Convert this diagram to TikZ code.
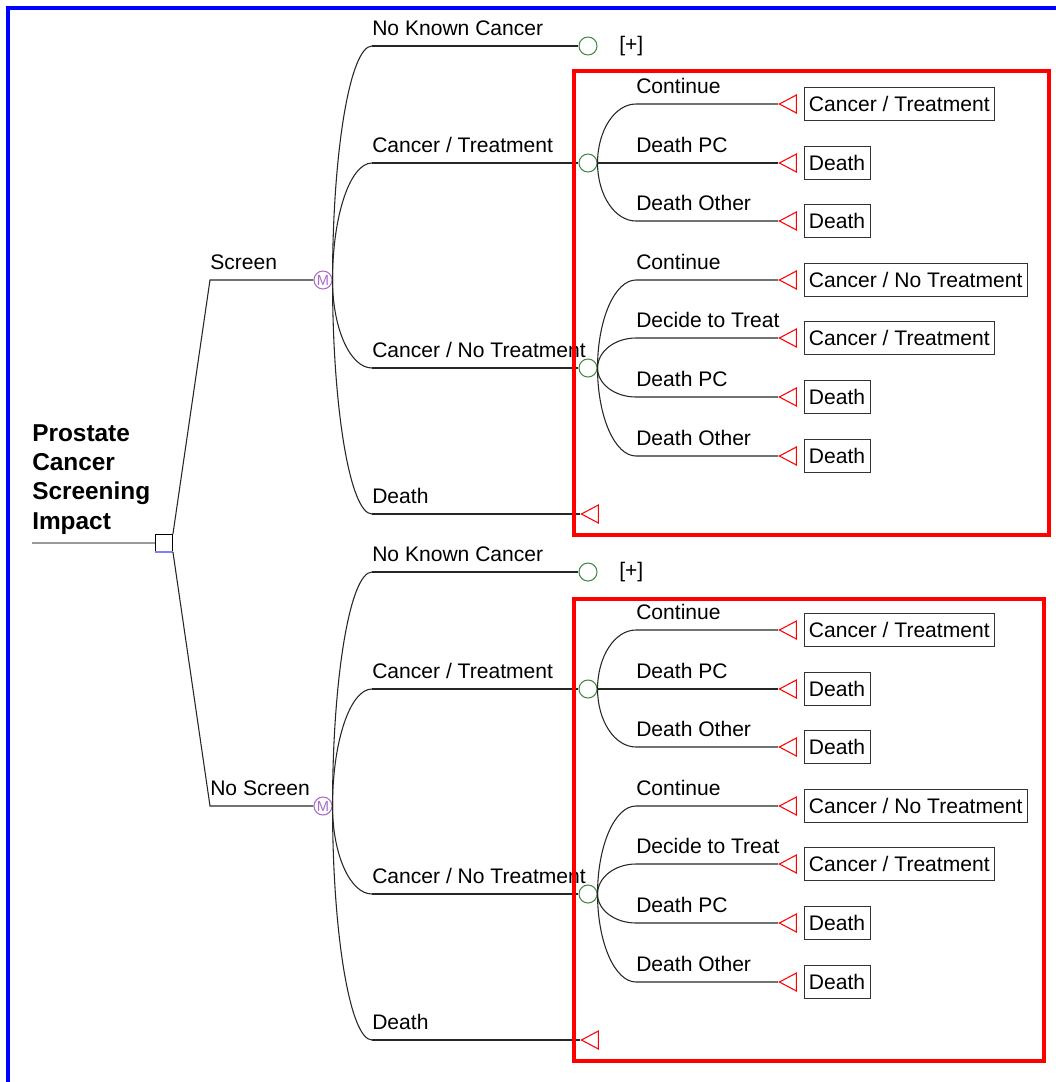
\documentclass[tikz,border=0pt]{standalone}
\usepackage{fontspec}
\setmainfont{Liberation Sans}
\usetikzlibrary{shapes.geometric, calc}

\definecolor{chancegreen}{RGB}{70,140,70}
\definecolor{markovpurple}{RGB}{170,110,200}

\begin{document}
\begin{tikzpicture}[x=0.75pt, y=-0.75pt,
    lbl/.style={anchor=base west, inner sep=0pt, font=\fontsize{15.8}{18}\selectfont},
    branch/.style={black!85, line width=0.8pt},
    decision/.style={rectangle, draw=black, fill=white, minimum size=13pt, inner sep=0pt},
    chance/.style={circle, draw=chancegreen, line width=0.8pt, fill=white, minimum size=13.5pt, inner sep=0pt},
    markov/.style={circle, draw=markovpurple, line width=0.8pt, fill=white, minimum size=13.5pt, inner sep=0pt,
        text=markovpurple, font=\fontsize{11}{11}\selectfont},
    term/.style={isosceles triangle, isosceles triangle stretches, shape border rotate=180,
        draw=red, line width=0.8pt, fill=white, minimum width=13.5pt, minimum height=12.75pt, inner sep=0pt, anchor=apex},
    outcome/.style={draw=black!80, anchor=west, minimum height=24.75pt, inner xsep=3.5pt,
        inner ysep=0pt, font=\fontsize{15.8}{18}\selectfont}]
    \useasboundingbox (0,0) rectangle (1056,1082);
    \draw[blue, line width=2.5pt] (8,1082) -- (8,8) -- (1056,8);

    % root and decision
    \node[anchor=north west, align=left, inner sep=0pt, font=\fontsize{18.3}{22}\selectfont\bfseries] (title) at (32,424) {Prostate\\Cancer\\Screening\\Impact};
    \coordinate (root) at (32,543);
    \node[decision] (dec) at (164,543) {};
    \draw[black!40, line width=1.5pt] (root) -- (dec);
    \draw[blue!50, line width=0.9pt] (dec.south west) -- (dec.south east);

    \foreach \p/\dy/\arm/\corner in {s/0/Screen/north east, n/526/No Screen/south east} {
        \coordinate (arm\p) at (210,{280+\dy});
        \node[markov] (mk\p) at (323,{280+\dy}) {M};
        \draw[branch] (dec.\corner) -- (arm\p) -- (mk\p);
        \node[lbl] (armlbl\p) at (210,{269+\dy}) {\arm};
        % out of the Markov node
        \foreach \q/\y/\txt in {nk/46/No Known Cancer, ct/163/{Cancer / Treatment}, cn/368/{Cancer / No Treatment}, dt/514/Death} {
            \coordinate (h\p\q) at (372,{\y+\dy});
            \node[lbl] (lbl\p\q) at (372,{\y+\dy-11}) {\txt};
            \draw[branch] (mk\p.east) .. controls ($(mk\p.east)!0.552!(mk\p.east |- h\p\q)$)
                and ($(h\p\q)!0.552!(mk\p.east |- h\p\q)$) .. (h\p\q);
        }
        \node[chance] (nk\p) at (588,{46+\dy}) {};
        \node[lbl, anchor=west] (plus\p) at (619,{46+\dy}) {[+]};
        \node[chance] (ct\p) at (588,{163+\dy}) {};
        \node[chance] (cn\p) at (588,{368+\dy}) {};
        \node[term] (dt\p) at (580,{514+\dy}) {};
        \draw[branch] (h\p nk) -- (nk\p);
        \draw[branch] (h\p ct) -- (ct\p);
        \draw[branch] (h\p cn) -- (cn\p);
        \draw[branch] (h\p dt) -- (dt\p);
        % Cancer / Treatment
        \foreach \q/\y/\txt/\out in {co/104/Continue/{Cancer / Treatment}, dp/163/Death PC/Death, do/221/Death Other/Death} {
            \coordinate (g\p ct\q) at (636,{\y+\dy});
            \node[lbl] (lbl\p ct\q) at (636,{\y+\dy-11}) {\txt};
            \node[term] (t\p ct\q) at (778,{\y+\dy}) {};
            \node[outcome] (o\p ct\q) at (804,{\y+\dy}) {\out};
            \draw[branch] (ct\p.east) .. controls ($(ct\p.east)!0.552!(ct\p.east |- g\p ct\q)$)
                and ($(g\p ct\q)!0.552!(ct\p.east |- g\p ct\q)$) .. (g\p ct\q) -- (t\p ct\q);
        }
        % Cancer / No Treatment
        \foreach \q/\y/\txt/\out in {co/280/Continue/{Cancer / No Treatment}, tr/338/Decide to Treat/{Cancer / Treatment}, dp/397/Death PC/Death, do/456/Death Other/Death} {
            \coordinate (g\p cn\q) at (636,{\y+\dy});
            \node[lbl] (lbl\p cn\q) at (636,{\y+\dy-11}) {\txt};
            \node[term] (t\p cn\q) at (778,{\y+\dy}) {};
            \node[outcome] (o\p cn\q) at (804,{\y+\dy}) {\out};
            \draw[branch] (cn\p.east) .. controls ($(cn\p.east)!0.552!(cn\p.east |- g\p cn\q)$)
                and ($(g\p cn\q)!0.552!(cn\p.east |- g\p cn\q)$) .. (g\p cn\q) -- (t\p cn\q);
        }
    }

    % highlighted subtrees
    \draw[red, line width=3pt] (573.5,71) rectangle (1049,534.5);
    \draw[red, line width=3pt] (573.5,599) rectangle (1044,1061);
\end{tikzpicture}
\end{document}
